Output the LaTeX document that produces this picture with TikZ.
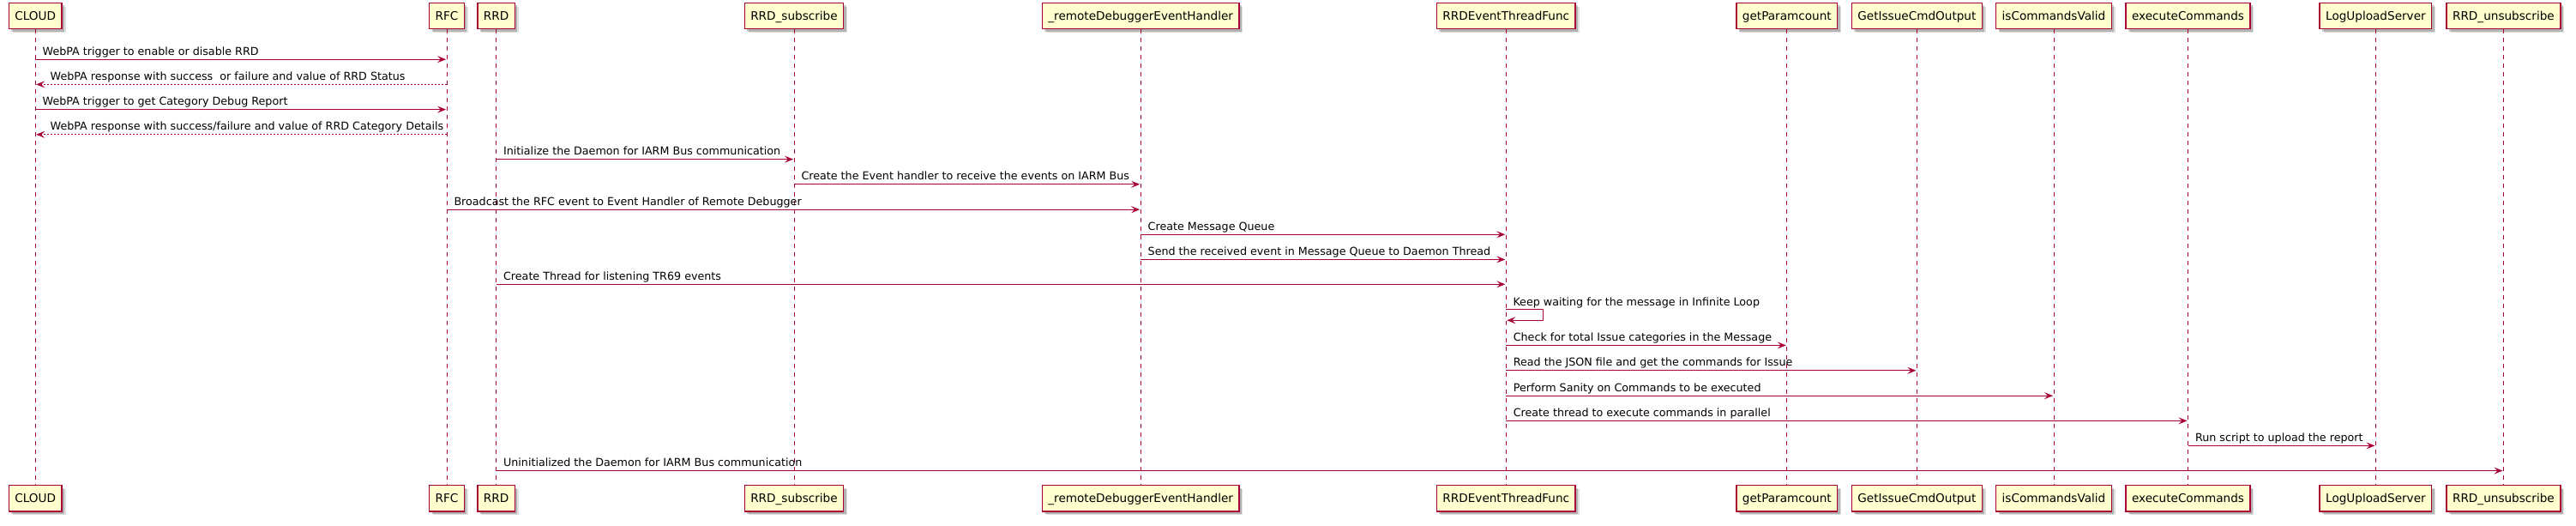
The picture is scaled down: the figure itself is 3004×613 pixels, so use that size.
\documentclass[tikz,border=0pt]{standalone}
\usepackage{fontspec}
\setmainfont{DejaVu Sans}
\usetikzlibrary{arrows.meta,shadows}
\definecolor{pred}{HTML}{A80036}
\definecolor{pfill}{HTML}{FEFECE}
\begin{document}
\begin{tikzpicture}[x=1pt,y=-1pt,
  part/.style={draw=pred, line width=1.5pt, fill=pfill, minimum height=30.3pt,
    inner xsep=7pt, inner ysep=0pt, text height=9.9pt, text depth=0pt,
    font=\fontsize{13.6}{16}\selectfont,
    drop shadow={shadow xshift=4.5pt, shadow yshift=-4.5pt, fill=black, opacity=0.12},
    drop shadow={shadow xshift=3pt, shadow yshift=-3pt, fill=black, opacity=0.2}},
  life/.style={draw=pred, line width=1pt, dash pattern=on 5pt off 5pt},
  msg/.style={draw=pred, line width=1pt, -{Stealth[length=10pt,width=8pt,inset=4pt,fill=pred]}, shorten >=1pt},
  ret/.style={msg, dash pattern=on 2pt off 2pt},
  lbl/.style={anchor=base west, xshift=8pt, yshift=5pt, inner sep=0pt, font=\fontsize{12.7}{15}\selectfont},
  lblr/.style={anchor=base west, xshift=17pt, yshift=5pt, inner sep=0pt, font=\fontsize{12.7}{15}\selectfont},
  lbls/.style={anchor=base west, xshift=8pt, yshift=4pt, inner sep=0pt, font=\fontsize{12.7}{15}\selectfont}
]
\useasboundingbox (0,0) rectangle (3004,613);

% participants (top)
\node[part] (cloud) at (41.2,18.45) {CLOUD};
\node[part] (rfc)   at (521,18.45) {RFC};
\node[part] (rrd)   at (578.6,18.45) {RRD};
\node[part] (sub)   at (926,18.45) {RRD\_subscribe};
\node[part] (hdl)   at (1330.2,18.45) {\_remoteDebuggerEventHandler};
\node[part] (thr)   at (1756.3,18.45) {RRDEventThreadFunc};
\node[part] (gpc)   at (2083.8,18.45) {getParamcount};
\node[part] (gic)   at (2235.4,18.45) {GetIssueCmdOutput};
\node[part] (icv)   at (2395,18.45) {isCommandsValid};
\node[part] (exc)   at (2551.5,18.45) {executeCommands};
\node[part] (lus)   at (2770.4,18.45) {LogUploadServer};
\node[part] (uns)   at (2919.4,18.45) {RRD\_unsubscribe};

% participants (bottom)
\node[part] (cloudB) at (41.2,580.65) {CLOUD};
\node[part] (rfcB)   at (521,580.65) {RFC};
\node[part] (rrdB)   at (578.6,580.65) {RRD};
\node[part] (subB)   at (926,580.65) {RRD\_subscribe};
\node[part] (hdlB)   at (1330.2,580.65) {\_remoteDebuggerEventHandler};
\node[part] (thrB)   at (1756.3,580.65) {RRDEventThreadFunc};
\node[part] (gpcB)   at (2083.8,580.65) {getParamcount};
\node[part] (gicB)   at (2235.4,580.65) {GetIssueCmdOutput};
\node[part] (icvB)   at (2395,580.65) {isCommandsValid};
\node[part] (excB)   at (2551.5,580.65) {executeCommands};
\node[part] (lusB)   at (2770.4,580.65) {LogUploadServer};
\node[part] (unsB)   at (2919.4,580.65) {RRD\_unsubscribe};

% lifelines
\foreach \p in {cloud,rfc,rrd,sub,hdl,thr,gpc,gic,icv,exc,lus,uns}
  \draw[life] (\p.south) -- (\p B.north);

% messages
\draw[msg] (cloud |- 0,69.2) -- (rfc |- 0,69.2) node[pos=0,lbl] {WebPA trigger to enable or disable RRD};
\draw[ret] (rfc |- 0,98.4) -- (cloud |- 0,98.4) node[pos=1,lblr] {WebPA response with success\ \ or failure and value of RRD Status};
\draw[msg] (cloud |- 0,127.6) -- (rfc |- 0,127.6) node[pos=0,lbl] {WebPA trigger to get Category Debug Report};
\draw[ret] (rfc |- 0,156.8) -- (cloud |- 0,156.8) node[pos=1,lblr] {WebPA response with success/failure and value of RRD Category Details};
\draw[msg] (rrd |- 0,185.6) -- (sub |- 0,185.6) node[pos=0,lbl] {Initialize the Daemon for IARM Bus communication};
\draw[msg] (sub |- 0,214.8) -- (hdl |- 0,214.8) node[pos=0,lbl] {Create the Event handler to receive the events on IARM Bus};
\draw[msg] (rfc |- 0,244.2) -- (hdl |- 0,244.2) node[pos=0,lbl] {Broadcast the RFC event to Event Handler of Remote Debugger};
\draw[msg] (hdl |- 0,273.3) -- (thr |- 0,273.3) node[pos=0,lbl] {Create Message Queue};
\draw[msg] (hdl |- 0,302.4) -- (thr |- 0,302.4) node[pos=0,lbl] {Send the received event in Message Queue to Daemon Thread};
\draw[msg] (rrd |- 0,331.3) -- (thr |- 0,331.3) node[pos=0,lbl] {Create Thread for listening TR69 events};
\draw[msg] (thr |- 0,360.7) -- ++(43.3,0) -- ++(0,12.6) -- (thr |- 0,373.3);
\node[lbls] (selflbl) at (thr |- 0,360.7) {Keep waiting for the message in Infinite Loop};
\draw[msg] (thr |- 0,402.4) -- (gpc |- 0,402.4) node[pos=0,lbl] {Check for total Issue categories in the Message};
\draw[msg] (thr |- 0,431.8) -- (gic |- 0,431.8) node[pos=0,lbl] {Read the JSON file and get the commands for Issue};
\draw[msg] (thr |- 0,461.2) -- (icv |- 0,461.2) node[pos=0,lbl] {Perform Sanity on Commands to be executed};
\draw[msg] (thr |- 0,490.4) -- (exc |- 0,490.4) node[pos=0,lbl] {Create thread to execute commands in parallel};
\draw[msg] (exc |- 0,519.4) -- (lus |- 0,519.4) node[pos=0,lbl] {Run script to upload the report};
\draw[msg] (rrd |- 0,548.6) -- (uns |- 0,548.6) node[pos=0,lbl] {Uninitialized the Daemon for IARM Bus communication};
\end{tikzpicture}
\end{document}
